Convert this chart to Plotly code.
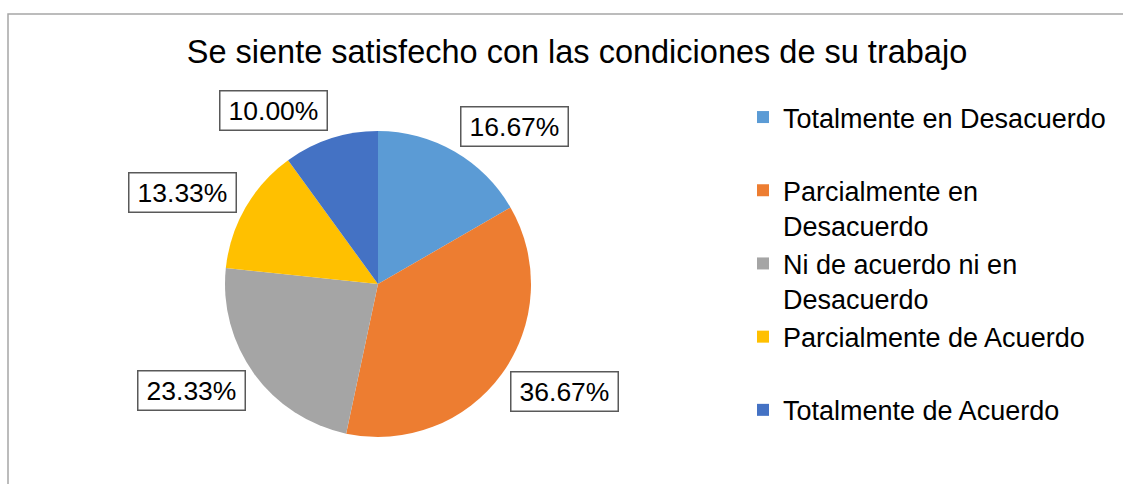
import math
import plotly.graph_objects as go

# ---- data ----
categories = [
    "Totalmente en Desacuerdo",
    "Parcialmente en<br>Desacuerdo",
    "Ni de acuerdo ni en<br>Desacuerdo",
    "Parcialmente de Acuerdo",
    "Totalmente de Acuerdo",
]
percentages = [16.67, 36.67, 23.33, 13.33, 10.00]
colors = ["#5B9BD5", "#ED7D31", "#A5A5A5", "#FFC000", "#4472C4"]
title_text = "Se siente satisfecho con las condiciones de su trabajo"

# legend labels padded so that entries are evenly spaced (Excel style)
legend_pad = ["<br> ", "", "", "<br> ", ""]
legend_labels = [c + p for c, p in zip(categories, legend_pad)]

# ---- layout geometry ----
W, H = 1123, 484
cx, cy, R = 378, 284, 153          # pie centre / radius in pixels
FONT = "Liberation Sans, Arial, sans-serif"

dom_x = [(cx - R) / W, (cx + R) / W]
dom_y = [(H - cy - R) / H, (H - cy + R) / H]

fig = go.Figure()
fig.add_trace(go.Pie(
    labels=legend_labels,
    values=percentages,
    sort=False,
    direction="clockwise",
    rotation=0,
    marker=dict(colors=colors, line=dict(width=0)),
    textinfo="none",
    hoverinfo="label+percent",
    domain=dict(x=dom_x, y=dom_y),
))

# data labels in boxes, placed outside each slice's mid angle
total = sum(percentages)
cum = 0.0
gap, half_h = 10, 19
for v in percentages:
    mid = math.radians(360.0 * (cum + v / 2) / total)
    cum += v
    sx, sy = math.sin(mid), math.cos(mid)
    px = cx + (R + gap) * sx                 # inner box edge
    py = cy - (R + gap + half_h) * sy        # box centre
    fig.add_annotation(
        x=px / W, y=1 - py / H, xref="paper", yref="paper",
        text=f"{v / total * 100:.2f}%", showarrow=False,
        font=dict(family=FONT, size=26.5, color="#000000"),
        bgcolor="#FFFFFF", bordercolor="#595959", borderwidth=1.5,
        borderpad=4, width=98, height=30,
        xanchor="left" if sx >= 0 else "right",
        yanchor="middle",
    )

# chart border (only top & left visible in the crop)
fig.add_shape(type="rect", xref="paper", yref="paper",
              x0=8 / W, x1=1.05, y0=-0.05, y1=1 - 14 / H,
              line=dict(color="#A6A6A6", width=1.5), fillcolor="rgba(0,0,0,0)")

fig.update_layout(
    width=W, height=H,
    margin=dict(l=0, r=0, t=0, b=0),
    paper_bgcolor="#FFFFFF",
    plot_bgcolor="#FFFFFF",
    title=dict(text=title_text, x=577 / W, y=1 - 52 / H,
               xanchor="center", yanchor="middle",
               font=dict(family=FONT, size=32.5, color="#000000")),
    legend=dict(x=743 / W, y=1 - 93 / H, xanchor="left", yanchor="top",
                font=dict(family=FONT, size=27, color="#000000"),
                valign="top", bgcolor="rgba(0,0,0,0)", itemclick=False),
    showlegend=True,
)

fig.write_html("out.html", post_script="document.body.style.margin='0';",
               config={"displayModeBar": False})
